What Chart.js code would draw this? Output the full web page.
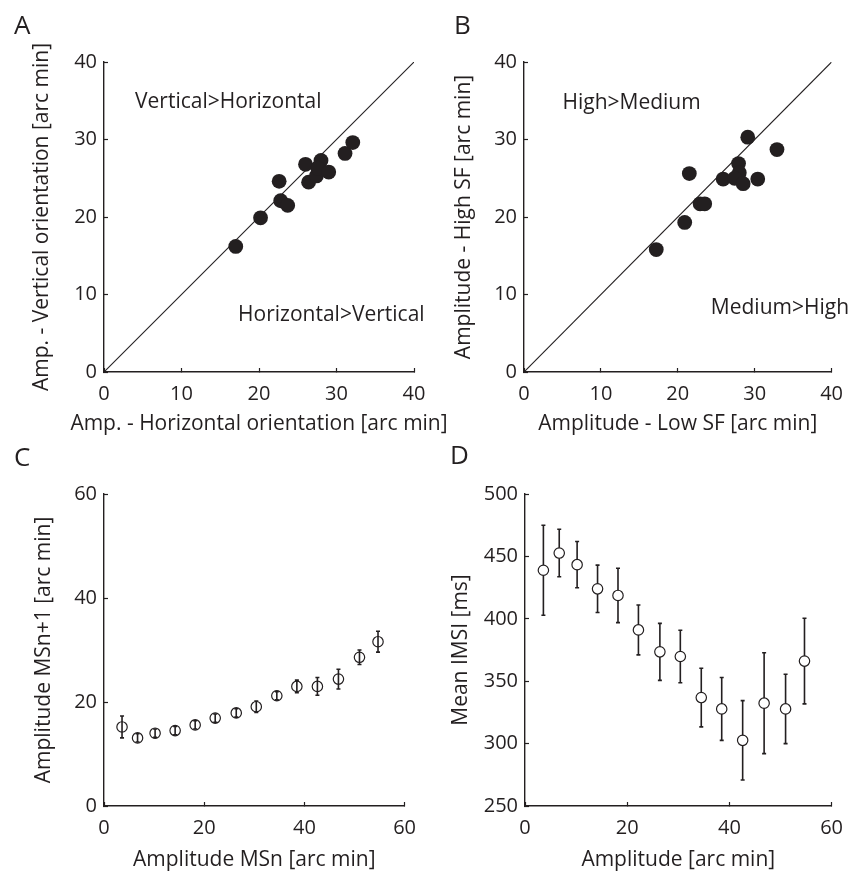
<!DOCTYPE html>
<html>
<head>
<meta charset="utf-8">
<script src="https://cdn.jsdelivr.net/npm/chart.js@4"></script>
<style>
  body { margin: 0; background: #fff; width: 857px; height: 873px; position: relative; overflow: hidden; font-family: 'Open Sans', sans-serif; }
  canvas { position: absolute; }
  .lbl { position: absolute; font-size: 26px; line-height: 26px; color: #231f20; }
</style>
</head>
<body>
<canvas id="pA" width="470" height="436" style="left:0;top:0"></canvas>
<canvas id="pB" width="427" height="436" style="left:430px;top:0"></canvas>
<canvas id="pC" width="430" height="437" style="left:0;top:436px"></canvas>
<canvas id="pD" width="427" height="437" style="left:430px;top:436px"></canvas>
<div class="lbl" style="left:14px;top:11px">A</div>
<div class="lbl" style="left:454px;top:11px">B</div>
<div class="lbl" style="left:14px;top:443px">C</div>
<div class="lbl" style="left:450px;top:441px">D</div>
<script>
// Panel A: amplitude per subject, horizontal vs vertical grating
const horizAmp = [17.0, 20.2, 22.6, 22.8, 23.7, 26.0, 26.4, 27.4, 28.0, 27.6, 29.0, 31.1, 32.1];
const vertAmp  = [16.2, 19.9, 24.6, 22.1, 21.5, 26.8, 24.5, 25.3, 27.3, 26.3, 25.8, 28.2, 29.6];

// Panel B: amplitude per subject, low vs high spatial frequency
const lowSF  = [17.2, 20.9, 21.5, 22.9, 23.5, 25.9, 27.9, 28.0, 27.4, 28.5, 29.1, 30.4, 32.9];
const highSF = [15.8, 19.3, 25.6, 21.7, 21.7, 24.9, 26.9, 25.7, 25.0, 24.3, 30.3, 24.9, 28.7];

// identity line for A and B
const diagX = [0, 40];
const diagY = [0, 40];

// Panels C and D: binned by amplitude of MSn
const ampBins    = [3.6, 6.7, 10.2, 14.2, 18.2, 22.2, 26.4, 30.4, 34.5, 38.5, 42.6, 46.8, 51.0, 54.7];
const nextAmp    = [15.2, 13.1, 14.0, 14.5, 15.6, 16.9, 17.9, 19.1, 21.2, 23.0, 23.0, 24.4, 28.6, 31.6];
const nextAmpErr = [2.1, 0.8, 0.8, 0.8, 0.8, 0.8, 0.8, 1.1, 0.8, 1.2, 1.7, 1.9, 1.4, 2.0];
const imsi       = [438.9, 452.7, 443.4, 424.0, 418.7, 391.1, 373.5, 369.8, 336.9, 327.8, 302.6, 332.4, 327.8, 366.1];
const imsiErr    = [36, 19, 18.5, 19, 21.8, 20, 22.8, 21, 23.5, 25.2, 31.8, 40.4, 27.8, 34.3];

const ink = '#231f20';
const family = "'Open Sans', sans-serif";
const textSize = 21;

// vertical error bars with small caps, drawn under the markers
const errorBars = {
  id: 'errbars',
  beforeDatasetsDraw(chart, args, opts) {
    const { ctx, scales: { x, y } } = chart;
    ctx.save();
    ctx.strokeStyle = ink;
    ctx.lineWidth = 1.6;
    opts.values.forEach((e, i) => {
      const px = x.getPixelForValue(opts.xs[i]);
      const top = y.getPixelForValue(opts.ys[i] + e);
      const bot = y.getPixelForValue(opts.ys[i] - e);
      ctx.beginPath();
      ctx.moveTo(px, top); ctx.lineTo(px, bot);
      ctx.moveTo(px - 2, top); ctx.lineTo(px + 2, top);
      ctx.moveTo(px - 2, bot); ctx.lineTo(px + 2, bot);
      ctx.stroke();
    });
    ctx.restore();
  }
};

// region captions inside panels A and B
const regionText = {
  id: 'regionText',
  afterDatasetsDraw(chart, args, opts) {
    const { ctx, scales: { x, y } } = chart;
    ctx.save();
    ctx.fillStyle = ink;
    ctx.font = textSize + 'px ' + family;
    ctx.textAlign = 'left';
    ctx.textBaseline = 'middle';
    opts.items.forEach(t => ctx.fillText(t.text, x.getPixelForValue(t.x), y.getPixelForValue(t.y)));
    ctx.restore();
  }
};

// axis titles drawn by hand so Chart.js does not squeeze them to the axis length
const axisTitles = {
  id: 'axisTitles',
  afterDraw(chart, args, opts) {
    const { ctx, chartArea: a } = chart;
    ctx.save();
    ctx.fillStyle = ink;
    ctx.font = textSize + 'px ' + family;
    ctx.textAlign = 'center';
    ctx.textBaseline = 'middle';
    ctx.fillText(opts.x, (a.left + a.right) / 2, a.bottom + opts.xGap);
    ctx.translate(opts.yPos, (a.top + a.bottom) / 2);
    ctx.rotate(-Math.PI / 2);
    ctx.fillText(opts.y, 0, 0);
    ctx.restore();
  }
};

function axis(min, max, step, size, isY) {
  return {
    type: 'linear', min, max,
    ticks: { stepSize: step, color: ink, font: { family, size: 20 }, padding: isY ? 11 : 14, maxRotation: 0, autoSkip: false },
    grid: { display: true, drawOnChartArea: false, drawTicks: true, tickLength: -4, color: ink, tickColor: ink, tickWidth: 1.2 },
    border: { display: true, color: ink, width: 1.4 },
    afterFit(s) { if (isY) s.width = size; else s.height = size; }
  };
}

function pairs(xs, ys) { return xs.map((v, i) => ({ x: v, y: ys[i] })); }

function baseOptions(pad, xAxis, yAxis, extra) {
  return {
    responsive: false,
    animation: false,
    layout: { padding: pad },
    plugins: Object.assign({ legend: { display: false }, tooltip: { enabled: false } }, extra),
    scales: { x: xAxis, y: yAxis }
  };
}

function scatterPanel(id, xs, ys, titles, yWidth, pad, captions) {
  new Chart(document.getElementById(id), {
    type: 'scatter',
    data: {
      datasets: [
        { data: pairs(xs, ys), pointRadius: 7.4, pointBackgroundColor: ink, pointBorderWidth: 0 },
        { data: pairs(diagX, diagY), showLine: true, borderColor: ink, borderWidth: 1.1, pointRadius: 0 }
      ]
    },
    options: baseOptions(pad,
      axis(0, 40, 10, 64, false),
      axis(0, 40, 10, yWidth, true),
      { regionText: { items: captions }, axisTitles: titles }),
    plugins: [regionText, axisTitles]
  });
}

function errorPanel(id, ys, errs, yMin, yMax, yStep, titles, yWidth, pad, fill) {
  new Chart(document.getElementById(id), {
    type: 'scatter',
    data: {
      datasets: [
        { data: pairs(ampBins, ys), pointRadius: 5.2, pointBackgroundColor: fill, pointBorderColor: ink, pointBorderWidth: 1.2 }
      ]
    },
    options: baseOptions(pad,
      axis(0, 60, 20, 67, false),
      axis(yMin, yMax, yStep, yWidth, true),
      { errbars: { xs: ampBins, ys, values: errs }, axisTitles: titles }),
    plugins: [errorBars, axisTitles]
  });
}

// panel A canvas is wider than its quadrant so its long x title is not cut off
scatterPanel('pA', horizAmp, vertAmp,
  { x: 'Amp. - Horizontal orientation [arc min]', y: 'Amp. - Vertical orientation [arc min]', xGap: 52, yPos: 42 },
  104, { top: 62, right: 56, left: 0, bottom: 0 },
  [{ text: 'Vertical>Horizontal', x: 4.0, y: 34.9 }, { text: 'Horizontal>Vertical', x: 17.3, y: 7.4 }]);

scatterPanel('pB', lowSF, highSF,
  { x: 'Amplitude - Low SF [arc min]', y: 'Amplitude - High SF [arc min]', xGap: 52, yPos: 34 },
  94, { top: 62, right: 23, left: 0, bottom: 0 },
  [{ text: 'High>Medium', x: 5.0, y: 34.7 }, { text: 'Medium>High', x: 24.3, y: 8.3 }]);

errorPanel('pC', nextAmp, nextAmpErr, 0, 60, 20,
  { x: 'Amplitude MSn [arc min]', y: 'Amplitude MSn+1 [arc min]', xGap: 54, yPos: 44 },
  104, { top: 58, right: 17, left: 0, bottom: 0 }, 'rgba(0,0,0,0)');

errorPanel('pD', imsi, imsiErr, 250, 500, 50,
  { x: 'Amplitude [arc min]', y: 'Mean IMSI [ms]', xGap: 54, yPos: 31 },
  95, { top: 58, right: 24, left: 0, bottom: 0 }, '#ffffff');
</script>
</body>
</html>
